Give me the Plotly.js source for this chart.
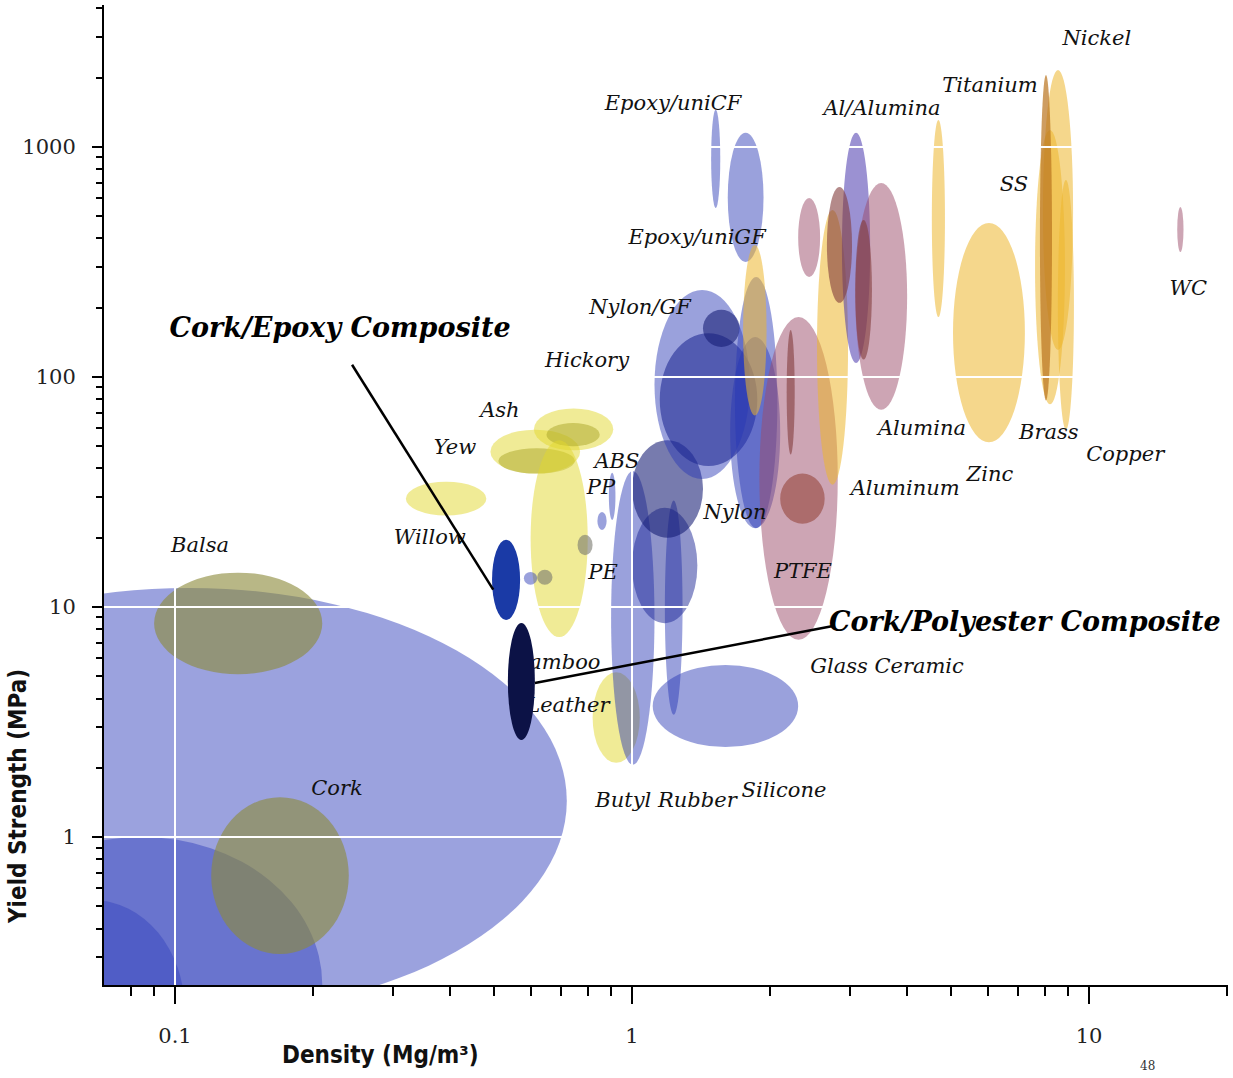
<!DOCTYPE html>
<html><head><meta charset="utf-8">
<script src="https://cdn.plot.ly/plotly-3.0.1.min.js"></script>
<style>
html,body{margin:0;padding:0;background:#fff;}
#chart{width:1233px;height:1078px;}
</style>
</head><body><div id="chart"></div>
<script>
// ---- Material property bubbles: density (Mg/m^3) and yield strength (MPa) ranges ----
const bubbleNames = ['Foam','Foam (dense)','Foam (rigid)','Balsa','Cork','Willow','Yew','Yew (core)','Ash','Ash (core)','Bamboo','Leather',
  'Polymer foam A','Polymer foam B','Polymer foam C','PP (thin)','PP (film)','Butyl Rubber','Elastomer','Silicone','PE','ABS/PP','Polymers',
  'Nylon/GF','Polymer (stiff)','Nylon','Epoxy/uniGF (low)','Epoxy/uniGF','Epoxy/uniCF','GFRP','PTFE / Glass Ceramic','Ceramic foam','Glass fibre',
  'Aluminum','Glass','Al/Alumina','Alumina (dense)','Alumina','Alumina (fine)','Titanium','Zinc','SS','Nickel','Steel','Copper/Brass','WC'];
const densityLo = [0.016,0.034,0.042,0.090,0.12,0.32,0.49,0.51,0.61,0.65,0.60,0.82,
  0.58,0.62,0.76,0.84,0.89,0.90,1.18,1.11,1.00,1.00,1.15,
  1.12,1.43,1.64,1.68,1.62,1.49,1.75,1.90,2.11,2.18,
  2.54,2.31,2.88,2.67,3.08,3.08,4.53,5.04,7.62,7.93,7.81,8.55,15.6];
const densityHi = [0.72,0.21,0.105,0.21,0.24,0.48,0.77,0.75,0.91,0.85,0.80,1.04,
  0.62,0.67,0.82,0.88,0.92,1.12,1.29,2.31,1.39,1.43,1.88,
  1.81,1.72,2.11,2.08,1.94,1.56,1.97,2.82,2.64,2.27,
  2.97,2.58,3.32,3.03,4.00,3.35,4.84,7.24,8.86,9.23,8.30,9.27,16.1];
const strengthLo = [0.17,0.052,0.059,5.1,0.31,25,38,38,48,50,7.4,2.1,
  12.5,12.5,16.8,21.6,23.9,2.06,3.4,2.46,8.5,20,41,
  36,135,22,22,316,543,68,7.2,23,46,
  34,272,115,210,72,119,182,52,76,131,79,59,349];
const strengthHi = [12.1,1.0,0.53,14.1,1.49,35,59,49,73,63,53,5.2,
  14.2,14.5,20.6,25.9,38.3,39,29,5.6,27,53,155,
  239,196,149,272,1151,1449,375,182,38,160,
  532,600,1151,670,697,481,1310,467,1186,2161,2056,719,548];
const bubbleClass = ['foam','foam','foam','woodOnFoam','woodOnFoam','wood','wood','woodDark','wood','woodDark','wood','wood',
  'polymer','gray','gray','polymer','polymer','polymer','polymer','polymer','polymerMid','polymerDark','polymerDark',
  'polymer','polymerDark','polymer','polymer','polymer','polymer','metal','ceramic','brown','ceramicDark',
  'metal','ceramic','purple','ceramicDark','ceramic','ceramicDark','metal','metal','metal','metal','metalDark','metal','ceramic'];

// ---- Composites of interest ----
const compositeNames = ['Cork/Epoxy Composite','Cork/Polyester Composite'];
const compositeDensLo = [0.494,0.535];
const compositeDensHi = [0.569,0.613];
const compositeStrLo = [8.78,2.64];
const compositeStrHi = [19.6,8.52];
const compositeLabelDens = [0.2297,7.24];
const compositeLabelStr = [160,8.44];
// leader lines: [label end, bubble end]
const leaderDens = [[0.244,0.497],[0.613,2.754]];
const leaderStr = [[113,11.9],[4.67,8.27]];

// ---- Material labels ----
const labelText = ['Nickel','Titanium','Epoxy/uniCF','Al/Alumina','SS','Epoxy/uniGF','WC','Nylon/GF','Hickory','Ash','Yew','ABS','PP',
  'Alumina','Brass','Copper','Zinc','Aluminum','Nylon','Willow','Balsa','PE','PTFE','Bamboo','Leather','Glass Ceramic','Cork','Butyl Rubber','Silicone'];
const labelDens = [10.4,6.07,1.230,3.524,6.85,1.388,16.5,1.041,0.797,0.514,0.410,0.927,0.855,
  4.31,8.17,12.0,6.07,3.96,1.68,0.361,0.1134,0.864,2.366,0.686,0.724,3.614,0.2262,1.187,2.151];
const labelStr = [2919,1823,1523,1449,676,398,239,198,117,70.4,48.6,42.3,32.6,
  58.9,56.5,45.4,37.1,32.3,25.4,19.8,18.2,13.9,14.1,5.65,3.67,5.43,1.60,1.42,1.57];

// ---- Axis ticks ----
const xTickVals = [0.1,1,10];
const xTickText = ['0.1','1','10'];
const xMinorVals = [0.08,0.09,0.2,0.3,0.4,0.5,0.6,0.7,0.8,0.9,2,3,4,5,6,7,8,9,20];
const yTickVals = [1,10,100,1000];
const yTickText = ['1','10','100','1000'];
const yMinorVals = [0.3,0.4,0.5,0.6,0.7,0.8,0.9,2,3,4,5,6,7,8,9,20,30,40,50,60,70,80,90,200,300,400,500,600,700,800,900,2000,3000,4000];

// translucent watercolour-like fills
const palette = {
  foam:       {c:'rgb(55,70,190)',   o:0.50},
  polymer:    {c:'rgb(40,55,180)',   o:0.47},
  polymerMid: {c:'rgb(30,40,150)',   o:0.50},
  polymerDark:{c:'rgb(20,28,115)',   o:0.58},
  wood:       {c:'rgb(225,215,45)',  o:0.50},
  woodOnFoam: {c:'rgb(140,138,60)',  o:0.62},
  woodDark:   {c:'rgb(170,165,40)',  o:0.50},
  gray:       {c:'rgb(120,120,110)', o:0.60},
  metal:      {c:'rgb(237,182,46)',  o:0.55},
  metalDark:  {c:'rgb(185,115,30)',  o:0.70},
  ceramic:    {c:'rgb(155,75,105)',  o:0.50},
  ceramicDark:{c:'rgb(130,60,60)',   o:0.60},
  brown:      {c:'rgb(150,70,60)',   o:0.60},
  purple:     {c:'rgb(73,55,173)',   o:0.55}
};
const compositeColors = ['#1a3aa6','#0c1246'];

const shapes = [];
for (let i = 0; i < bubbleNames.length; i++) {
  const p = palette[bubbleClass[i]];
  shapes.push({type:'circle', xref:'x', yref:'y', layer:'below',
    x0:densityLo[i], x1:densityHi[i], y0:strengthLo[i], y1:strengthHi[i],
    fillcolor:p.c, opacity:p.o, line:{width:0}});
}
for (let i = 0; i < compositeNames.length; i++) {
  shapes.push({type:'circle', xref:'x', yref:'y', layer:'above',
    x0:compositeDensLo[i], x1:compositeDensHi[i], y0:compositeStrLo[i], y1:compositeStrHi[i],
    fillcolor:compositeColors[i], line:{width:0}});
  shapes.push({type:'line', xref:'x', yref:'y', layer:'above',
    x0:leaderDens[i][0], x1:leaderDens[i][1], y0:leaderStr[i][0], y1:leaderStr[i][1],
    line:{color:'#000', width:2.5}});
}

const traces = [
  {type:'scatter', mode:'text', x:labelDens, y:labelStr, text:labelText, hoverinfo:'skip', cliponaxis:false,
   textposition:'middle center', textfont:{family:'DejaVu Serif', size:21, style:'italic', color:'#111'}},
  {type:'scatter', mode:'text', x:compositeLabelDens, y:compositeLabelStr, text:compositeNames, hoverinfo:'skip', cliponaxis:false,
   textposition:'middle center', textfont:{family:'DejaVu Serif', size:27, style:'italic', weight:'bold', color:'#000'}}
];

const axisCommon = {
  type:'log', showline:true, linecolor:'#000', linewidth:2, ticks:'outside', tickwidth:2, tickcolor:'#000',
  tickmode:'array', showgrid:true, gridcolor:'#ffffff', gridwidth:2, zeroline:false, fixedrange:true,
  tickfont:{family:'DejaVu Serif', size:21, color:'#222'}
};

const layout = {
  width:1233, height:1078, margin:{l:104, r:5, t:5, b:93},
  paper_bgcolor:'#fff', plot_bgcolor:'#fff', showlegend:false,
  xaxis:Object.assign({}, axisCommon, {range:[-1.1554,1.3042], tickvals:xTickVals, ticktext:xTickText, ticklen:17, ticklabelstandoff:14,
    minor:{tickmode:'array', tickvals:xMinorVals, ticks:'outside', ticklen:9, tickwidth:2, tickcolor:'#000', showgrid:false}}),
  yaxis:Object.assign({}, axisCommon, {range:[-0.6435,3.617], tickvals:yTickVals, ticktext:yTickText, ticklen:10, ticklabelstandoff:12,
    minor:{tickmode:'array', tickvals:yMinorVals, ticks:'outside', ticklen:6, tickwidth:2, tickcolor:'#000', showgrid:false}}),
  shapes:shapes,
  annotations:[
    {xref:'paper', yref:'paper', x:0.2456, y:-0.0714, xanchor:'center', yanchor:'middle', showarrow:false,
     text:'<b>Density (Mg/m³)</b>', font:{family:'Liberation Sans Narrow, DejaVu Sans Condensed, sans-serif', size:24, color:'#111'}},
    {xref:'paper', yref:'paper', x:-0.0765, y:0.1918, xanchor:'center', yanchor:'middle', showarrow:false, textangle:-90,
     text:'<b>Yield Strength (MPa)</b>', font:{family:'Liberation Sans Narrow, DejaVu Sans Condensed, sans-serif', size:24, color:'#111'}},
    {xref:'paper', yref:'paper', x:0.9288, y:-0.0826, xanchor:'center', yanchor:'middle', showarrow:false,
     text:'48', font:{family:'DejaVu Serif', size:12, color:'#333'}}
  ]
};

Plotly.newPlot('chart', traces, layout, {displayModeBar:false, staticPlot:true});
</script></body></html>
